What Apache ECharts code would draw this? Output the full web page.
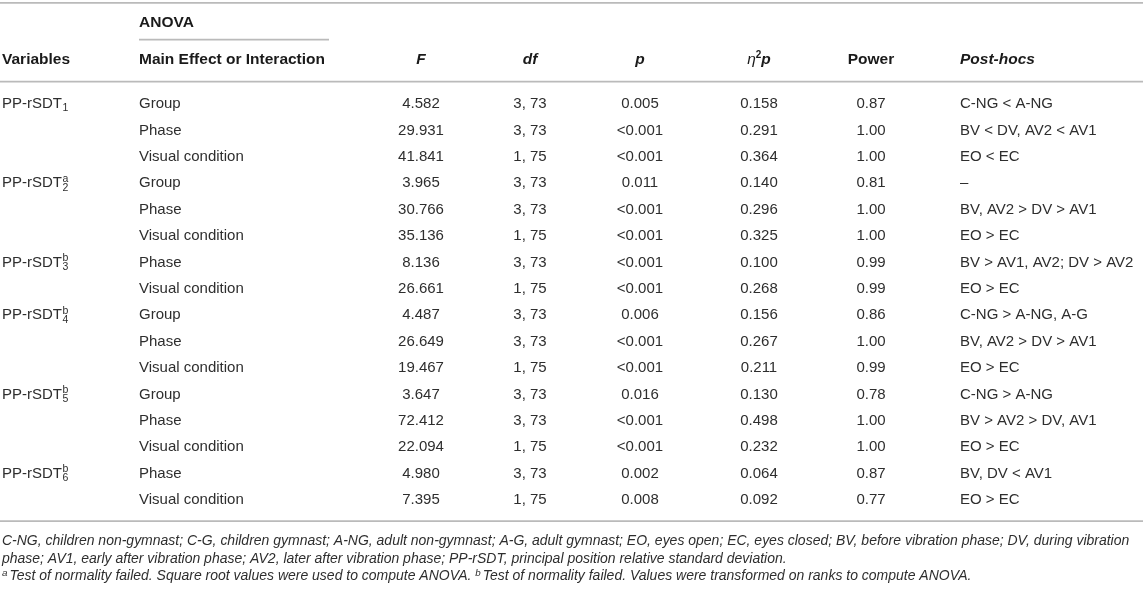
<!DOCTYPE html>
<html>
<head>
<meta charset="utf-8">
<script src="https://cdn.jsdelivr.net/npm/echarts@6/dist/echarts.min.js"></script>
<style>
  html, body { margin: 0; padding: 0; background: #fff; }
  #main { width: 1143px; height: 589px; }
</style>
</head>
<body>
<div id="main"></div>
<script>
// ---- table contents ----
let headers = ['Variables', 'Main Effect or Interaction', 'F', 'df', 'p', 'η²p', 'Power', 'Post-hocs'];
let groupHeader = 'ANOVA';

let varName = 'PP-rSDT';
let varSubs = ['1', '2', '3', '4', '5', '6'];
let varMarks = ['', 'a', 'b', 'b', 'b', 'b'];
let varRows = [0, 3, 6, 8, 11, 14];

let effects = ['Group', 'Phase', 'Visual condition', 'Group', 'Phase', 'Visual condition', 'Phase', 'Visual condition',
  'Group', 'Phase', 'Visual condition', 'Group', 'Phase', 'Visual condition', 'Phase', 'Visual condition'];
let fValues = ['4.582', '29.931', '41.841', '3.965', '30.766', '35.136', '8.136', '26.661',
  '4.487', '26.649', '19.467', '3.647', '72.412', '22.094', '4.980', '7.395'];
let dfValues = ['3, 73', '3, 73', '1, 75', '3, 73', '3, 73', '1, 75', '3, 73', '1, 75',
  '3, 73', '3, 73', '1, 75', '3, 73', '3, 73', '1, 75', '3, 73', '1, 75'];
let pValues = ['0.005', '<0.001', '<0.001', '0.011', '<0.001', '<0.001', '<0.001', '<0.001',
  '0.006', '<0.001', '<0.001', '0.016', '<0.001', '<0.001', '0.002', '0.008'];
let etaValues = ['0.158', '0.291', '0.364', '0.140', '0.296', '0.325', '0.100', '0.268',
  '0.156', '0.267', '0.211', '0.130', '0.498', '0.232', '0.064', '0.092'];
let powerValues = ['0.87', '1.00', '1.00', '0.81', '1.00', '1.00', '0.99', '0.99',
  '0.86', '1.00', '0.99', '0.78', '1.00', '1.00', '0.87', '0.77'];
let postHocs = ['C-NG < A-NG', 'BV < DV, AV2 < AV1', 'EO < EC', '–', 'BV, AV2 > DV > AV1', 'EO > EC',
  'BV > AV1, AV2; DV > AV2', 'EO > EC', 'C-NG > A-NG, A-G', 'BV, AV2 > DV > AV1', 'EO > EC',
  'C-NG > A-NG', 'BV > AV2 > DV, AV1', 'EO > EC', 'BV, DV < AV1', 'EO > EC'];

let footnotes = [
  'C-NG, children non-gymnast; C-G, children gymnast; A-NG, adult non-gymnast; A-G, adult gymnast; EO, eyes open; EC, eyes closed; BV, before vibration phase; DV, during vibration',
  'phase; AV1, early after vibration phase; AV2, later after vibration phase; PP-rSDT, principal position relative standard deviation.'
];
let noteMarks = ['a', 'b'];
let noteMarkTexts = ['Test of normality failed. Square root values were used to compute ANOVA. ',
  'Test of normality failed. Values were transformed on ranks to compute ANOVA.'];

// ---- layout (x in px across the page, y in row units) ----
let colX = [2, 139, 421, 530, 640, 759, 871, 960];
let colAlign = ['left', 'left', 'center', 'center', 'center', 'center', 'center', 'left'];
let rowTop = -3.94, rowBottom = 18.37;
let anovaRow = -3.09, headRow = -1.69;
let noteRows = [16.55, 17.24, 17.89];
let noteRight = 1130;      // where the first footnote line ends
let rules = [
  [0, 1143, -3.83],
  [139, 329, -2.44],
  [0, 1143, -0.85],
  [0, 1143, 15.80]
];

let family = '"Liberation Sans", Arial, Helvetica, sans-serif';
let bodySize = 15, headSize = 15.5, subSize = 10.5;
let ink = '#2e2e2e', headInk = '#1a1a1a', ruleColor = '#bababa';

let measureCtx = document.createElement('canvas').getContext('2d');
function textWidth(str, font) {
  measureCtx.font = font;
  return measureCtx.measureText(str).width;
}
// footnote size chosen so the first line fills the table width
let noteSize = 14 * (noteRight - colX[0]) / textWidth(footnotes[0], 'italic 14px ' + family);

let bodyFont = bodySize + 'px ' + family;
let boldFont = 'bold ' + headSize + 'px ' + family;
let boldItalic = 'italic bold ' + headSize + 'px ' + family;
let noteFont = 'italic ' + noteSize.toFixed(2) + 'px ' + family;

// ---- build the cells ----
let cells = [];
cells.push({ x: colX[1], y: anovaRow, text: groupHeader, align: 'left', font: boldFont, fill: headInk });
let headFonts = [boldFont, boldFont, boldItalic, boldItalic, boldItalic, null, boldFont, boldItalic];
headers.forEach((h, i) => {
  let c = { x: colX[i], y: headRow, text: h, align: colAlign[i], font: headFonts[i], fill: headInk };
  if (i === 5) {
    c.text = '{e|η}{s|2}{p|p}';
    c.font = boldFont;
    c.rich = {
      e: { font: 'italic ' + headSize + 'px ' + family, fill: headInk },
      s: { font: 'bold 10px ' + family, fill: headInk, padding: [0, 0, 8, 0] },
      p: { font: boldItalic, fill: headInk }
    };
  }
  cells.push(c);
});
varRows.forEach((r, i) => {
  cells.push({ x: colX[0], y: r, text: varName, sub: varSubs[i], sup: varMarks[i], align: 'left', font: bodyFont, fill: ink });
});
let columns = [effects, fValues, dfValues, pValues, etaValues, powerValues, postHocs];
columns.forEach((col, ci) => {
  col.forEach((v, r) => {
    cells.push({ x: colX[ci + 1], y: r, text: v, align: colAlign[ci + 1], font: bodyFont, fill: ink });
  });
});
footnotes.forEach((t, i) => {
  cells.push({ x: colX[0], y: noteRows[i], text: t, align: 'left', font: noteFont, fill: ink });
});
cells.push({
  x: colX[0], y: noteRows[2], align: 'left', font: noteFont, fill: ink,
  text: noteMarks.map((m, i) => '{s|' + m + '}{t|' + noteMarkTexts[i] + '}').join(''),
  rich: {
    s: { font: 'italic ' + (noteSize * 0.7).toFixed(2) + 'px ' + family, fill: ink, padding: [0, 2, 6, 0] },
    t: { font: noteFont, fill: ink }
  }
});

function textEl(x, y, c, text, font, align) {
  return {
    type: 'text', x: x, y: y,
    style: {
      text: text, font: font, fill: c.fill, rich: c.rich,
      align: align, verticalAlign: 'middle',
      textAlign: align, textVerticalAlign: 'middle'
    }
  };
}

function renderCell(params, api) {
  let c = cells[params.dataIndex];
  let pt = api.coord([api.value(0), api.value(1)]);
  if (c.sub !== undefined) {
    let w = textWidth(c.text, c.font) + 0.5;
    let smallFont = subSize + 'px ' + family;
    let kids = [
      textEl(pt[0], pt[1], c, c.text, c.font, 'left'),
      textEl(pt[0] + w, pt[1] + 4.5, c, c.sub, smallFont, 'left')
    ];
    if (c.sup) kids.push(textEl(pt[0] + w, pt[1] - 4.5, c, c.sup, smallFont, 'left'));
    return { type: 'group', children: kids };
  }
  return textEl(pt[0], pt[1], c, c.text, c.font, c.align);
}

function renderRule(params, api) {
  let a = api.coord([api.value(0), api.value(2)]);
  let b = api.coord([api.value(1), api.value(2)]);
  return {
    type: 'line',
    shape: { x1: a[0], y1: a[1], x2: b[0], y2: b[1] },
    style: { stroke: ruleColor, lineWidth: 1.6 }
  };
}

let myChart = echarts.init(document.getElementById('main'), null, { renderer: 'canvas' });
let option = {
  animation: false,
  grid: { left: 0, right: 0, top: 0, bottom: 0, containLabel: false },
  xAxis: { type: 'value', min: 0, max: 1143, show: false },
  yAxis: { type: 'value', min: rowTop, max: rowBottom, inverse: true, show: false },
  series: [
    {
      type: 'custom',
      clip: false,
      silent: true,
      data: rules,
      encode: { x: [0, 1], y: 2 },
      renderItem: renderRule
    },
    {
      type: 'custom',
      clip: false,
      silent: true,
      data: cells.map(c => [c.x, c.y]),
      renderItem: renderCell
    }
  ]
};
myChart.setOption(option);
</script>
</body>
</html>
